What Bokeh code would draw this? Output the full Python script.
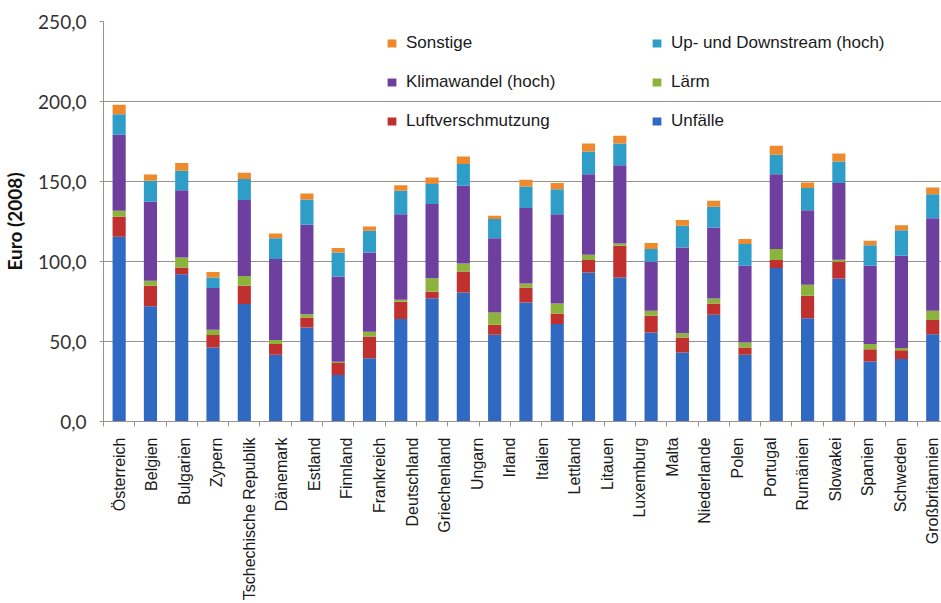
import math

from bokeh.plotting import figure
from bokeh.models import ColumnDataSource, FixedTicker, Legend, LegendItem, Range1d
from bokeh.embed import file_html
from bokeh.resources import INLINE

# Externe Kosten je Land, Euro (2008), aufgeteilt nach Kostenkategorie
laender = [
    "Österreich", "Belgien", "Bulgarien", "Zypern", "Tschechische Republik",
    "Dänemark", "Estland", "Finnland", "Frankreich", "Deutschland",
    "Griechenland", "Ungarn", "Irland", "Italien", "Lettland", "Litauen",
    "Luxemburg", "Malta", "Niederlande", "Polen", "Portugal", "Rumänien",
    "Slowakei", "Slowenien", "Spanien", "Schweden", "Großbritannien",
]

# Beschriftungen der Kategorienachse
achsen_labels = [
    "Österreich", "Belgien", "Bulgarien", "Zypern", "Tschechische Republik",
    "Dänemark", "Estland", "Finnland", "Frankreich", "Deutschland",
    "Griechenland", "Ungarn", "Irland", "Italien", "Lettland", "Litauen",
    "Luxemburg", "Malta", "Niederlande", "Polen", "Portugal", "Rumänien",
    "Slowakei", "Spanien", "Schweden", "Großbritannien",
]

unfaelle = [115.4, 72.1, 92.1, 46.3, 73.4, 41.7, 58.8, 29.0, 39.6, 64.0,
            77.1, 80.6, 54.2, 74.4, 60.9, 93.1, 90.0, 55.6, 43.1, 66.7,
            41.7, 95.9, 64.6, 89.4, 37.5, 39.0, 54.6]
luftverschmutzung = [12.6, 12.7, 4.2, 7.7, 11.4, 6.7, 6.2, 7.5, 13.5, 10.8,
                     4.0, 13.2, 6.2, 9.4, 6.6, 7.8, 19.8, 10.5, 9.4, 7.1,
                     4.6, 5.0, 14.0, 10.4, 7.7, 5.6, 8.8]
laerm = [3.7, 3.1, 6.2, 3.3, 6.1, 2.5, 2.1, 0.8, 3.0, 1.3,
         8.5, 5.0, 7.7, 2.5, 6.3, 3.3, 1.5, 3.1, 2.7, 3.1,
         3.1, 6.9, 6.8, 1.3, 3.2, 1.3, 5.8]
klimawandel = [47.5, 49.4, 42.1, 26.1, 47.5, 50.6, 55.9, 53.3, 49.5, 53.5,
               46.3, 48.5, 46.5, 47.1, 55.8, 50.4, 48.9, 30.6, 53.6, 44.4,
               47.9, 46.8, 46.7, 47.9, 48.9, 57.7, 57.9]
up_downstream = [12.8, 13.1, 12.1, 6.6, 13.1, 13.1, 15.8, 15.0, 13.6, 14.6,
                 12.5, 13.6, 11.9, 13.5, 15.6, 14.2, 13.6, 8.0, 13.5, 12.9,
                 13.6, 12.1, 13.8, 13.5, 12.9, 16.0, 15.0]
sonstige = [6.0, 4.0, 4.8, 3.4, 3.9, 2.9, 3.7, 2.8, 2.7, 3.5,
            4.1, 4.7, 2.1, 4.2, 3.8, 5.0, 4.8, 3.7, 3.6, 3.7,
            3.1, 5.6, 3.5, 5.0, 2.7, 3.1, 4.2]

y_ticks = [0, 50, 100, 150, 200, 250]
y_labels = ["0,0", "50,0", "100,0", "150,0", "200,0", "250,0"]

serien = ["unfaelle", "luft", "laerm", "klima", "updown", "sonstige"]
farben = ["#2f69c2", "#c0302e", "#8cb43c", "#6e3f9e", "#2e9ec8", "#ee8a2c"]

n = len(laender)
source = ColumnDataSource(dict(
    x=list(range(n)), land=laender,
    unfaelle=unfaelle, luft=luftverschmutzung, laerm=laerm,
    klima=klimawandel, updown=up_downstream, sonstige=sonstige,
))

gitter = "#9a908c"
label_font = "Lato"
legend_font = "Liberation Sans"

p = figure(
    width=941, height=603,
    x_range=Range1d(-0.5, 26.28), y_range=Range1d(0, 250),
    output_backend="svg", toolbar_location=None,
    min_border_left=100, min_border_right=0,
    min_border_top=21, min_border_bottom=182,
)
p.outline_line_color = None
p.background_fill_color = "white"
p.border_fill_color = "white"

bars = p.vbar_stack(serien, x="x", width=0.42, source=source,
                    fill_color=farben, line_color=None)

# Kategorienachse: Teilstriche an den Kategoriegrenzen, Beschriftung gleichmäßig verteilt
label_pos = [i * (n - 1) / (len(achsen_labels) - 1) for i in range(len(achsen_labels))]
grenzen = [i - 0.5 for i in range(n + 1) if i - 0.5 <= 26.28]
xa = p.xaxis[0]
xa.ticker = FixedTicker(ticks=label_pos, minor_ticks=grenzen)
xa.major_label_overrides = {pos: name for pos, name in zip(label_pos, achsen_labels)}
xa.major_label_orientation = math.pi / 2
xa.major_tick_out = 0
xa.major_tick_in = 0
xa.minor_tick_out = 5
xa.minor_tick_in = 0
xa.minor_tick_line_color = gitter
xa.axis_line_color = gitter
xa.major_label_standoff = 11
xa.major_label_text_font = legend_font
xa.major_label_text_font_size = "16px"
xa.major_label_text_color = "#1a1a1a"

ya = p.yaxis[0]
ya.ticker = FixedTicker(ticks=y_ticks, minor_ticks=[])
ya.major_label_overrides = {t: s for t, s in zip(y_ticks, y_labels)}
ya.major_tick_out = 4
ya.major_tick_in = 0
ya.major_tick_line_color = gitter
ya.axis_line_color = gitter
ya.major_label_standoff = 13
ya.major_label_text_font = label_font
ya.major_label_text_font_size = "19px"
ya.major_label_text_color = "#333333"
ya.axis_label = "Euro (2008)"
ya.axis_label_text_font = label_font
ya.axis_label_text_font_style = "bold"
ya.axis_label_text_font_size = "19px"
ya.axis_label_text_color = "#111111"
ya.axis_label_standoff = 9

p.xgrid.visible = False
p.ygrid.ticker = FixedTicker(ticks=y_ticks, minor_ticks=[])
p.ygrid.grid_line_color = gitter
p.ygrid.grid_line_width = 1


def make_legend(items, x_off):
    leg = Legend(
        items=[LegendItem(label=lbl, renderers=[bars[k]]) for lbl, k in items],
        location=(x_off, 290),
        background_fill_alpha=0, border_line_color=None,
        padding=0, margin=0, spacing=19,
        glyph_width=11, glyph_height=10, label_standoff=9,
        label_height=20,
        label_text_font=legend_font, label_text_font_size="17px",
        label_text_color="#1a1a1a",
    )
    p.add_layout(leg)


make_legend([("Sonstige", 5), ("Klimawandel (hoch)", 3), ("Luftverschmutzung", 1)], 283)
make_legend([("Up- und Downstream (hoch)", 4), ("Lärm", 2), ("Unfälle", 0)], 548)

open("out.html", "w").write(file_html(p, INLINE))
